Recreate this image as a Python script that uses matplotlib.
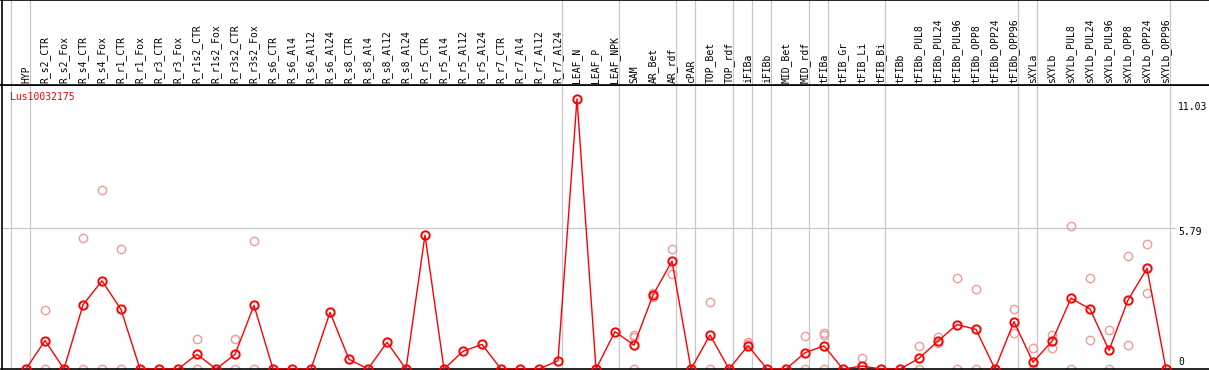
import numpy as np
import matplotlib
matplotlib.use("Agg")
import matplotlib.pyplot as plt

nan = np.nan

labels = ["HYP", "R_s2_CTR", "R_s2_Fox", "R_s4_CTR", "R_s4_Fox", "R_r1_CTR", "R_r1_Fox",
          "R_r3_CTR", "R_r3_Fox", "R_r1s2_CTR", "R_r1s2_Fox", "R_r3s2_CTR", "R_r3s2_Fox",
          "R_s6_CTR", "R_s6_Al4", "R_s6_Al12", "R_s6_Al24", "R_s8_CTR", "R_s8_Al4",
          "R_s8_Al12", "R_s8_Al24", "R_r5_CTR", "R_r5_Al4", "R_r5_Al12", "R_r5_Al24",
          "R_r7_CTR", "R_r7_Al4", "R_r7_Al12", "R_r7_Al24", "LEAF_N", "LEAF_P", "LEAF_NPK",
          "SAM", "AR_Bet", "AR_rdf", "cPAR", "TOP_Bet", "TOP_rdf", "iFIBa", "iFIBb",
          "MID_Bet", "MID_rdf", "tFIBa", "tFIB_Gr", "tFIB_Li", "tFIB_Bi", "tFIBb",
          "tFIBb_PUL8", "tFIBb_PUL24", "tFIBb_PUL96", "tFIBb_OPP8", "tFIBb_OPP24",
          "tFIBb_OPP96", "sXYLa", "sXYLb", "sXYLb_PUL8", "sXYLb_PUL24", "sXYLb_PUL96",
          "sXYLb_OPP8", "sXYLb_OPP24", "sXYLb_OPP96"]

# mean expression (line)
mean_vals = [0, 1.17, 0, 2.64, 3.63, 2.45, 0, 0, 0, 0.60, 0, 0.60, 2.62,
             0, 0, 0, 2.33, 0.40, 0, 1.10, 0, 5.51, 0, 0.73, 1.01,
             0, 0, 0, 0.34, 11.12, 0, 1.54, 0.98, 3.04, 4.44, 0, 1.40,
             0, 0.96, 0, 0, 0.67, 0.95, 0, 0.12, 0, 0, 0.44, 1.15,
             1.83, 1.63, 0, 1.95, 0.28, 1.14, 2.91, 2.47, 0.77, 2.84, 4.14, 0]

# replicate values (pink circles)
rep_a = [nan, 2.43, nan, 5.38, 7.35, 4.93, nan, nan, nan, 1.22, nan, 1.22, 5.26,
         nan, nan, nan, nan, nan, nan, nan, nan, nan, nan, nan, nan,
         nan, nan, nan, nan, nan, nan, nan, 1.40, 3.12, 4.93, nan, 2.77,
         nan, 1.10, nan, nan, 1.36, 1.47, nan, 0.44, nan, nan, 0.95, 1.30,
         3.73, 3.28, nan, 2.46, 0.85, 1.40, 5.88, 3.73, 1.60, 4.65, 5.13, nan]
rep_b = [nan, 0, nan, 0, 0, 0, nan, nan, nan, 0, nan, 0, 0,
         nan, nan, nan, nan, nan, nan, nan, nan, nan, nan, nan, nan,
         nan, nan, nan, nan, nan, nan, nan, 1.33, 2.95, 3.90, nan, 0,
         nan, 1.02, nan, nan, 0, 1.40, nan, 0, nan, nan, 0, 1.06,
         0, 0, nan, 1.47, 0, 0.88, 0, 1.19, 0, 0.99, 3.12, nan]
rep_c = [nan] * 32 + [0] + [nan] * 9 + [0] + [nan] * 18

group_ends = [-1, 0, 28, 31, 34, 35, 37, 38, 39, 41, 42, 45, 52, 53, 60]
ticks = [11.03, 5.79, 0]

W, H = 1209, 370
x = np.arange(len(labels))
xlim = ((1.5 - 26) / 19.0, (1209 - 26) / 19.0)

fig = plt.figure(figsize=(W / 100, H / 100), dpi=100)
ax = fig.add_axes([1.5 / W, 1 / H, 1207.5 / W, 284 / H])
axh = fig.add_axes([1.5 / W, 285 / H, 1207.5 / W, 85 / H])

mono = "DejaVu Sans Mono"

for a in (ax, axh):
    a.set_xlim(*xlim)
    a.set_xticks([])
    a.set_yticks([])
    a.spines["right"].set_visible(False)
    for s in ("left", "top", "bottom"):
        a.spines[s].set_linewidth(1.2)
        a.spines[s].set_color("black")
    for g in group_ends:
        a.axvline(g + 0.22, color="#c8c8c8", lw=0.9, zorder=0)

ax.set_ylim(0, 284 / 24.3)
axh.set_ylim(0, 1)

ax.hlines(5.79, xlim[0], 60.5, color="#c8c8c8", lw=0.9, zorder=0)

pink = "#ee9a9a"
for reps in (rep_a, rep_b, rep_c):
    ax.plot(x, reps, ls="none", marker="o", ms=6, mfc="none", mec=pink, mew=1.0, zorder=2)

ax.plot(x, mean_vals, color="red", lw=1.0, marker="o", ms=6, mfc="none",
        mec="red", mew=1.4, zorder=3)

for i, lab in enumerate(labels):
    axh.text(i, 0.02, lab, rotation=90, ha="center", va="bottom",
             family=mono, fontsize=7, color="black")

ax.text(8.5 / 1207.5, (369 - 97) / 284, "Lus10032175", transform=ax.transAxes,
        ha="left", va="center", family=mono, fontsize=7, color="red")

offsets = [-4.5, -3.0, 5.0]
for t, dy in zip(ticks, offsets):
    ax.annotate(f"{t:g}", xy=(60.63, t), xytext=(0, dy), textcoords="offset points",
                ha="left", va="center", family=mono, fontsize=7, color="black",
                annotation_clip=False)

fig.savefig("out.png", dpi=100)
